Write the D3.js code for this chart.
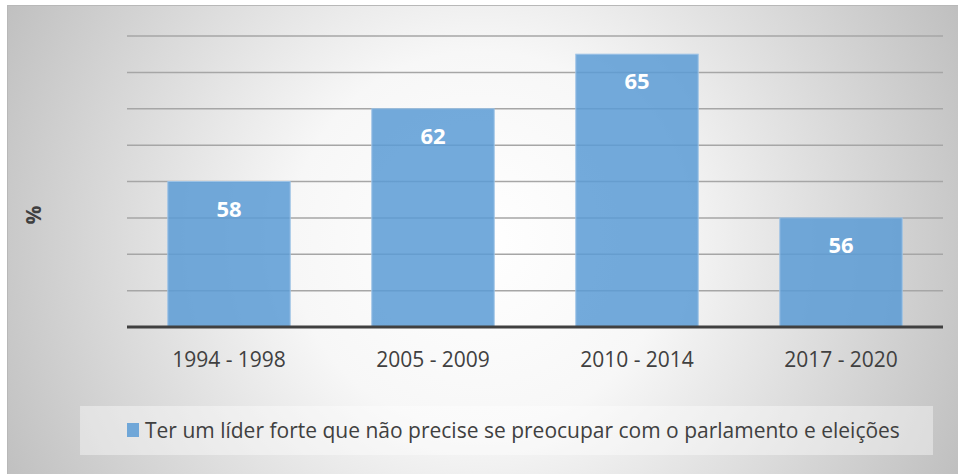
<!DOCTYPE html>
<html>
<head>
<meta charset="utf-8">
<script src="https://cdn.jsdelivr.net/npm/d3@7/dist/d3.min.js"></script>
<style>
  html, body { margin: 0; padding: 0; background: #fff; }
  svg { display: block; }
</style>
</head>
<body>
<svg id="chart" width="958" height="474"></svg>
<script>
// Chart data
const periods = ["1994 - 1998", "2005 - 2009", "2010 - 2014", "2017 - 2020"];
const values = [58, 62, 65, 56];
const seriesName = "Ter um líder forte que não precise se preocupar com o parlamento e eleições";
const yTicks = [50, 52, 54, 56, 58, 60, 62, 64, 66];
const yLabel = "%";

const width = 958, height = 474;
const font = "'Open Sans', 'Noto Sans', sans-serif";
const textColor = "#404040";
const barColor = "#5b9bd5";

const svg = d3.select("#chart");

// Radial gradient background
const defs = svg.append("defs");
const grad = defs.append("radialGradient")
    .attr("id", "bg")
    .attr("gradientUnits", "userSpaceOnUse")
    .attr("cx", 480).attr("cy", 240).attr("r", 540);
grad.append("stop").attr("offset", "0").attr("stop-color", "#ffffff");
grad.append("stop").attr("offset", "0.35").attr("stop-color", "#f7f7f7");
grad.append("stop").attr("offset", "1").attr("stop-color", "#bebebe");

svg.append("rect")
    .attr("x", 7.5).attr("y", 5.5)
    .attr("width", width).attr("height", height)
    .attr("fill", "url(#bg)")
    .attr("stroke", "#b8b8b8")
    .attr("stroke-width", 1);

// Scales
const x = d3.scaleBand()
    .domain(periods)
    .range([127, 943])
    .paddingInner(0.4)
    .paddingOuter(0.2);

const y = d3.scaleLinear()
    .domain([d3.min(yTicks), d3.max(yTicks)])
    .range([327, 36]);

// Gridlines
svg.append("g")
    .selectAll("line")
    .data(yTicks.slice(1))
    .join("line")
        .attr("x1", 127).attr("x2", 943)
        .attr("y1", d => y(d)).attr("y2", d => y(d))
        .attr("stroke", "#a6a6a6")
        .attr("stroke-width", 1.5);

// Bars
svg.append("g")
    .selectAll("rect")
    .data(values)
    .join("rect")
        .attr("x", (d, i) => x(periods[i]))
        .attr("y", d => y(d))
        .attr("width", x.bandwidth())
        .attr("height", d => y(yTicks[0]) - y(d))
        .attr("fill", barColor)
        .attr("fill-opacity", 0.85)
        .attr("stroke", "#9dc3e6")
        .attr("stroke-width", 1);

// Value labels
svg.append("g")
    .selectAll("text")
    .data(values)
    .join("text")
        .attr("x", (d, i) => x(periods[i]) + x.bandwidth() / 2)
        .attr("y", d => y(d) + 35)
        .attr("text-anchor", "middle")
        .attr("font-family", font)
        .attr("font-weight", "bold")
        .attr("font-size", 22)
        .attr("fill", "#ffffff")
        .text(d => d);

// X axis baseline and labels
const xAxis = svg.append("g")
    .attr("transform", `translate(0,${y(yTicks[0])})`)
    .call(d3.axisBottom(x).tickSize(0).tickPadding(0));
xAxis.select(".domain")
    .attr("d", "M127,0H943")
    .attr("stroke", "#404040")
    .attr("stroke-width", 3);
xAxis.selectAll("text")
    .attr("y", 40)
    .attr("dy", null)
    .attr("font-family", font)
    .attr("font-size", 21)
    .attr("fill", textColor);

// Y axis title
svg.append("text")
    .attr("transform", "translate(41,215) rotate(-90)")
    .attr("text-anchor", "middle")
    .attr("font-family", font)
    .attr("font-weight", "bold")
    .attr("font-size", 21)
    .attr("fill", textColor)
    .text(yLabel);

// Legend
const legend = svg.append("g");
legend.append("rect")
    .attr("x", 80).attr("y", 406)
    .attr("width", 853).attr("height", 49)
    .attr("fill", "#ffffff")
    .attr("fill-opacity", 0.4);
legend.append("rect")
    .attr("x", 127).attr("y", 423)
    .attr("width", 12).attr("height", 14)
    .attr("fill", barColor)
    .attr("fill-opacity", 0.85);
legend.append("text")
    .attr("x", 145).attr("y", 438)
    .attr("font-family", font)
    .attr("font-size", 21)
    .attr("fill", textColor)
    .text(seriesName);
</script>
</body>
</html>
